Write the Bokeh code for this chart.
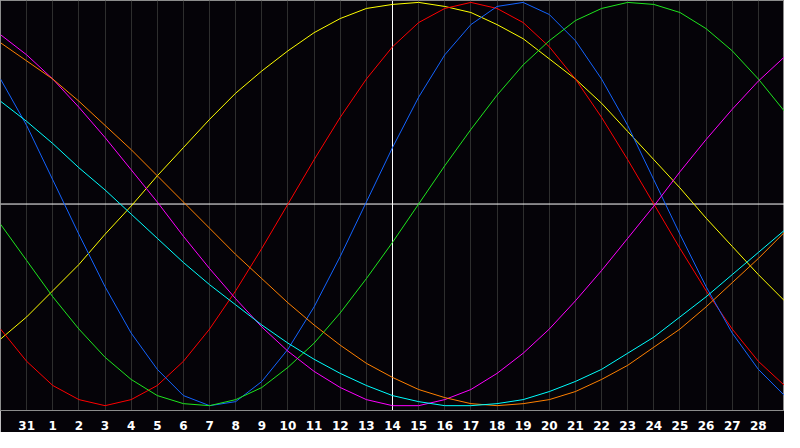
from bokeh.plotting import figure
from bokeh.models import Range1d, Span, FixedTicker
from bokeh.embed import file_html
from bokeh.resources import INLINE

# Day index 0..30 (index 1 = day 31, index 2 = day 1, ..., index 29 = day 28)
days = list(range(31))
day_labels = ["31"] + [str(d) for d in range(1, 29)]
label_positions = list(range(1, 30))
today_index = 15  # day 14

# Cycle values in percent
yellow = [-67, -56, -43, -30, -15, -1, 14, 28, 42, 55, 66, 76, 85, 92, 97, 99,
          100, 98, 95, 89, 82, 72, 62, 50, 36, 22, 8, -7, -21, -35, -48]
red = [-62, -78, -90, -97, -100, -97, -90, -78, -62, -43, -22, 0, 22, 43, 62, 78,
       90, 97, 100, 97, 90, 78, 62, 43, 22, 0, -22, -43, -62, -78, -90]
blue = [62, 39, 12, -15, -41, -64, -82, -95, -100, -98, -88, -72, -51, -26, 1, 28,
        53, 74, 89, 98, 100, 94, 81, 62, 39, 12, -15, -41, -64, -82, -95]
green = [-10, -28, -46, -62, -76, -87, -95, -99, -100, -97, -91, -81, -69, -54, -37, -19,
         0, 19, 37, 54, 69, 81, 91, 97, 100, 99, 95, 87, 76, 62, 46]
magenta = [84, 74, 62, 48, 33, 17, 1, -16, -32, -47, -61, -73, -83, -91, -97, -100,
           -100, -97, -92, -84, -74, -62, -48, -33, -17, -1, 16, 32, 47, 61, 73]
orange = [80, 71, 62, 51, 39, 27, 14, 1, -12, -25, -37, -49, -60, -70, -79, -86,
          -92, -96, -99, -100, -99, -97, -93, -87, -80, -71, -62, -51, -39, -27, -14]
cyan = [51, 41, 30, 18, 7, -5, -17, -29, -40, -50, -60, -69, -77, -84, -90, -95,
        -98, -100, -100, -99, -97, -93, -88, -82, -74, -66, -56, -46, -35, -24, -13]

series = [
    (yellow, "#ffff00"),
    (red, "#ff0000"),
    (blue, "#1464ff"),
    (green, "#1ee61e"),
    (magenta, "#ff00ff"),
    (orange, "#ff8000"),
    (cyan, "#00ffff"),
]

W, H = 784, 432
p = figure(width=W, height=H, output_backend="svg", toolbar_location=None,
           x_range=Range1d(0, 30), y_range=Range1d(-102.4, 100.95),
           y_axis_location=None, min_border_left=0, min_border_right=0,
           min_border_top=0, min_border_bottom=19)
p.background_fill_color = "#050308"
p.border_fill_color = "#050308"
p.outline_line_color = "#8c8c8c"
p.outline_line_width = 1

p.ygrid.visible = False
p.xgrid.grid_line_color = "#2e2e2e"
p.xgrid.grid_line_width = 1

p.xaxis.ticker = FixedTicker(ticks=label_positions)
p.xaxis.major_label_overrides = {pos: lab for pos, lab in zip(label_positions, day_labels)}
p.xaxis.axis_line_color = "#8c8c8c"
p.xaxis.major_tick_line_color = None
p.xaxis.minor_tick_line_color = None
p.xaxis.major_label_text_color = "#ffffff"
p.xaxis.major_label_text_font = "DejaVu Sans"
p.xaxis.major_label_text_font_style = "bold"
p.xaxis.major_label_text_font_size = "12px"
p.xaxis.major_label_standoff = 4

p.add_layout(Span(location=today_index, dimension="height", line_color="#ffffff",
                  line_width=1, level="underlay"))
p.add_layout(Span(location=0, dimension="width", line_color="#ffffff",
                  line_width=1, level="underlay"))

for vals, col in series:
    p.line(days, vals, line_color=col, line_width=1)

open("out.html", "w").write(file_html(p, INLINE))
